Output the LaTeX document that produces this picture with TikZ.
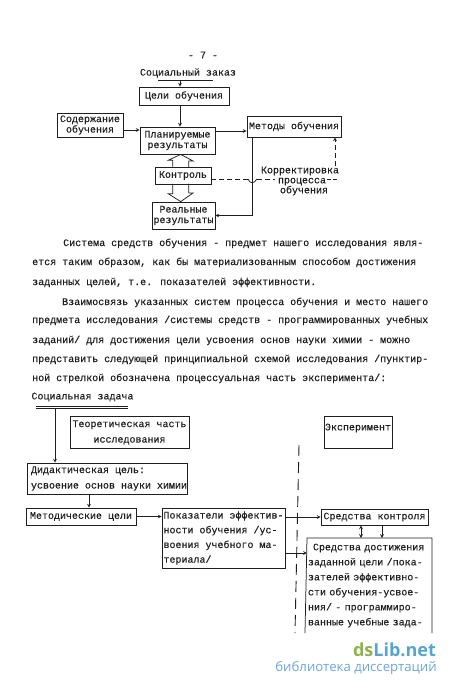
\documentclass[tikz,border=0pt]{standalone}
\usepackage{fontspec}
\usepackage{xcolor}
\setmainfont[FakeBold=0.35]{Liberation Mono}
\newfontfamily\wmfont{Open Sans}
\usetikzlibrary{calc}
\definecolor{wmgreen}{HTML}{8FB24C}
\definecolor{wmblue}{HTML}{55A6CE}
\definecolor{wmlight}{HTML}{6BA6D9}
\definecolor{ink}{gray}{0.12}

\begin{document}
\begin{tikzpicture}[x=1pt, y=-1pt, every node/.style={text=ink, inner sep=0pt},
  line/.style={draw=ink, line width=0.75pt},
  arrow/.style={->, >=stealth, draw=ink, line width=0.7pt},
  dashline/.style={line, dash pattern=on 5pt off 3pt},
  box/.style={draw=ink, line width=0.8pt, align=center, font=\fontsize{10}{10.5}\selectfont},
  loose/.style={box, align=left, font=\fontsize{10}{15.5}\selectfont},
  bodyline/.style={anchor=base west, font=\fontsize{10}{12}\selectfont}]
  \useasboundingbox (0,0) rectangle (450,689);

  \node (pagenum) at (203,55) [font=\fontsize{10}{12}\selectfont] {- 7 -};
  \node (zakaz) at (188,73) [font=\fontsize{10}{12}\selectfont] {Социальный заказ};
  \coordinate (zakazl) at (158,80);
  \coordinate (zakazr) at (213,80);
  \draw[line] (zakazl) -- (zakazr);
  \node (celi) at (184,96) [box, minimum width=90pt, minimum height=18pt] {Цели обучения};
  \node (plan) at (177.5,140.5) [box, minimum width=75pt, minimum height=27pt] {Планируемые\\результаты};
  \node (soderzh) at (90,125) [box, minimum width=66pt, minimum height=24pt] {Содержание\\обучения};
  \node (metody) at (294,126.5) [box, minimum width=94pt, minimum height=21pt] {Методы обучения};
  \node (kontrol) at (183,175.5) [box, minimum width=56pt, minimum height=17pt] {Контроль};
  \node (realn) at (183.5,215.5) [box, minimum width=63pt, minimum height=27pt] {Реальные\\результаты};
  \node (korr) at (300,181) [align=center, font=\fontsize{10}{10}\selectfont] {Корректировка\\\hspace*{4pt}процесса\\\hspace*{8pt}обучения};

  \coordinate (axis) at (180,80);
  \draw[arrow] (axis) -- (axis |- celi.north);
  \draw[arrow] (axis |- celi.south) -- (axis |- plan.north);
  \draw[arrow] ([yshift=-5pt]soderzh.east) -- ([yshift=-5pt]soderzh.east -| plan.west);
  \draw[arrow] ([yshift=-4.5pt]metody.west -| plan.east) -- ([yshift=-4.5pt]metody.west);

  \coordinate (dbl) at (180.7,0);
  \draw[line] (dbl |- kontrol.north) ++(-8,0) -- ++(0,-6.3) -- ++(-4.5,0) -- (dbl |- plan.south) -- ++(12.5,6.7) -- ++(-4.5,0) -- ++(0,6.3);
  \draw[line] (dbl |- kontrol.south) ++(-8,0) -- ++(0,9.3) -- ++(-4.5,0) -- (dbl |- realn.north) -- ++(12.5,-8.7) -- ++(-4.5,0) -- ++(0,-9.3);

  \coordinate (back) at (252,137);
  \draw[arrow] (back) -- (back |- realn.east) -- (realn.east);
  \coordinate (hopa) at (248,179);
  \coordinate (hopb) at (257,179);
  \coordinate (procl) at (275,179);
  \coordinate (procr) at (327,179);
  \coordinate (corner) at (337,179);
  \draw[dashline] (kontrol.east |- hopa) -- (hopa);
  \draw[line] (hopa) .. controls (250,184) and (254,184) .. (hopb);
  \draw[dashline] (hopb) -- (procl);
  \draw[dashline, dash pattern=on 4pt off 2pt] (procr) -- (corner);
  \draw[arrow, dash pattern=on 5pt off 3pt] (corner |- korr.north) ++(-2,0) -- ([xshift=-2pt]corner |- metody.south);

  \foreach \n/\y/\x/\t in {
    1/246/63/{Система средств обучения - предмет нашего исследования явля-},
    2/265/32/{ется таким образом, как бы материализованным способом достижения},
    3/285/32/{заданных целей, т.е. показателей эффективности.},
    4/305/62/{Взаимосвязь указанных систем процесса обучения и место нашего},
    5/323/32/{предмета исследования /системы средств - программированных учебных},
    6/343/32/{заданий/ для достижения цели усвоения основ науки химии - можно},
    7/362/32/{представить следующей принципиальной схемой исследования /пунктир-},
    8/381/32/{ной стрелкой обозначена процессуальная часть эксперимента/:}}
    \node (body\n) at (\x,\y) [bodyline] {\t};

  \node (zadacha) at (82.5,397) [font=\fontsize{10}{12}\selectfont] {Социальная задача};
  \coordinate (zadl) at (36,406);
  \coordinate (zadr) at (128,406);
  \draw[line] (zadl) -- (zadr);
  \draw[line] ([yshift=-2pt]zadl) -- ([yshift=-2pt]zadr);
  \coordinate (zadarrow) at (55,408);
  \node (teor) at (129.5,432.5) [loose, align=center, minimum width=119pt, minimum height=32pt] {Теоретическая часть\\исследования};
  \node (eksp) at (358,432) [box, minimum width=68pt, minimum height=32pt, text depth=10pt] {Эксперимент};
  \node (didakt) at (107,478.5) [loose, minimum width=160pt, minimum height=31pt] {\hspace*{4pt}Дидактическая цель:\\\hspace*{4pt}усвоение основ науки химии};
  \node (metod) at (81,516.5) [box, minimum width=110pt, minimum height=17pt] {Методические цели};
  \node (pokaz) at (223.5,538) [loose, minimum width=123pt, minimum height=60pt, font=\fontsize{10}{14.7}\selectfont] {Показатели эффектив-\\ности обучения /ус-\\воения учебного ма-\\териала/};
  \node (kontsr) at (374.5,517) [box, minimum width=107pt, minimum height=16pt] {Средства контроля};
  \node (dost) at (369.5,585.5) [align=left, text width=123pt, minimum height=95pt, font=\fontsize{10}{15}\selectfont] {\hspace*{5pt}Средства достижения\\заданной цели /пока-\\зателей эффективно-\\сти обучения-усвое-\\ния/ - программиро-\\ванные учебные зада-};
  \coordinate (dostnw) at (307,538);
  \coordinate (dostne) at (432,538);
  \coordinate (dostsw) at (305,633);
  \coordinate (dostse) at (432,633);
  \draw[line] (dostsw) -- (dostnw) -- (dostne) -- (dostse);
  \begin{scope}
    \clip (300,625) rectangle (440,633);
    \node (dostend) at (308,640) [anchor=base west, font=\fontsize{10}{12}\selectfont] {ния};
  \end{scope}

  \draw[arrow] (zadarrow) -- (zadarrow |- didakt.north);
  \coordinate (didaktout) at (89,494);
  \draw[arrow] (didaktout) -- (didaktout |- metod.north);
  \draw[arrow] (metod.east) -- (metod.east -| pokaz.west);
  \draw[arrow] (kontsr.west -| pokaz.east) -- (kontsr.west);
  \coordinate (lower) at (285,553);
  \draw[arrow] (lower) -- (lower -| dostnw);
  \coordinate (updown) at (361,0);
  \coordinate (down) at (382,0);
  \draw[<->, >=stealth, line] (updown |- kontsr.south) -- (updown |- dostnw);
  \draw[arrow] (down |- kontsr.south) -- (down |- dostnw);

  \coordinate (cuttop) at (299,445);
  \coordinate (cutbot) at (295,633);
  \draw[draw=ink, line width=0.9pt, dash pattern=on 11pt off 6pt] (cuttop) -- (cutbot);

  \node (wmname) at (394.5,650) [font=\wmfont\bfseries\fontsize{18}{18}\selectfont, text=wmblue] {\textcolor{wmgreen}{ds}Lib.net};
  \node (wmsub) at (356,668) [font=\wmfont\fontsize{13.2}{13.2}\selectfont, text=wmlight] {библиотека диссертаций};
\end{tikzpicture}
\end{document}
